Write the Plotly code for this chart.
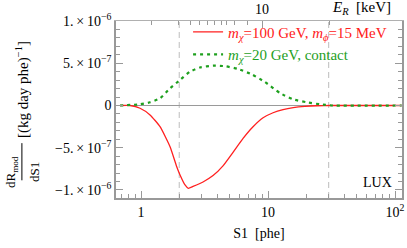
import plotly.graph_objects as go
import numpy as np

# ---- data ----
s1_red = [0.683, 0.819, 0.982, 1.177, 1.411, 1.692, 1.910, 2.028, 2.220, 2.357, 2.566, 3.077,
          3.69, 4.42, 5.30, 6.36, 7.62, 9.14, 10.95, 13.13, 15.8, 19.5, 24.3, 30.8, 113.0]
rate_red = [0.0, 0.0, -0.033e-6, -0.112e-6, -0.251e-6, -0.488e-6, -0.724e-6, -0.822e-6,
            -0.941e-6, -0.980e-6, -0.958e-6, -0.905e-6, -0.830e-6, -0.715e-6, -0.555e-6,
            -0.390e-6, -0.252e-6, -0.146e-6, -0.086e-6, -0.049e-6, -0.026e-6, -0.011e-6,
            -0.003e-6, 0.0, 0.0]

s1_green = [0.683, 0.982, 1.177, 1.411, 1.692, 2.028, 2.43, 2.91, 3.69, 4.59, 5.81, 7.47,
            9.46, 12.4, 15.7, 20.2, 25.7, 32.5, 113.0]
rate_green = [0.0, 0.014e-6, 0.038e-6, 0.085e-6, 0.204e-6, 0.302e-6, 0.40e-6, 0.45e-6,
              0.471e-6, 0.465e-6, 0.432e-6, 0.367e-6, 0.278e-6, 0.148e-6, 0.073e-6,
              0.038e-6, 0.014e-6, 0.0, 0.0]

name_red = '<span style="color:#ff2020"><i>m</i><sub><i>χ</i></sub>=100 GeV, <i>m</i><sub><i>ϕ</i></sub>=15 MeV</span>'
name_green = '<span style="color:#1ea01e"><i>m</i><sub><i>χ</i></sub>=20 GeV, contact</span>'

thresholds = [2, 30]

x_tickvals = [1, 10, 100]
x_ticktext = ["1", "10", "10<sup>2</sup>"]
x_minor = [0.7, 0.8, 0.9, 2, 3, 4, 5, 6, 7, 8, 9, 20, 30, 40, 50, 60, 70, 80, 90]

y_tickvals = [-1e-6, -5e-7, 0, 5e-7, 1e-6]
y_ticktext = ["−1.\u2009×\u200910<sup>−6</sup>", "−5.\u2009×\u200910<sup>−7</sup>", "0",
              "5.\u2009×\u200910<sup>−7</sup>", "1.\u2009×\u200910<sup>−6</sup>"]
y_minor = [v * 1e-7 for v in range(-10, 11) if v % 5 != 0]

# top axis (E_R in keV), positions expressed in S1
top_major_s1 = [8.98]
top_major_text = ["10"]
top_minor_s1 = [1.20, 1.99, 2.43, 2.86, 3.31, 3.76, 4.27, 4.75, 5.40, 6.84, 30.6]

FONT = "Liberation Serif"
AX = "#999999"

fig = go.Figure()
for t in thresholds:
    fig.add_vline(x=t, line=dict(color="#c8c8c8", width=1.2, dash="6px,4px"), layer="below")

fig.add_trace(go.Scatter(x=s1_red, y=rate_red, mode="lines", name=name_red,
                         line=dict(color="#ff2020", width=1.3, shape="spline", smoothing=0.5)))
fig.add_trace(go.Scatter(x=s1_green, y=rate_green, mode="lines", name=name_green,
                         line=dict(color="#1ea01e", width=2.2, dash="3px,4px", shape="spline", smoothing=0.5)))
# invisible trace to carry top axis
fig.add_trace(go.Scatter(x=[1], y=[0], xaxis="x2", mode="markers", marker=dict(opacity=0),
                         showlegend=False, hoverinfo="skip"))

xr = [np.log10(0.635), np.log10(113.5)]
tf = dict(family=FONT, size=14, color="black")
fig.update_layout(
    width=407, height=248,
    margin=dict(l=116, r=5, t=21, b=50, autoexpand=False),
    paper_bgcolor="white", plot_bgcolor="white",
    font=dict(family=FONT, size=14, color="black"),
    showlegend=True,
    legend=dict(x=0.252, y=1.03, xanchor="left", yanchor="top", bgcolor="rgba(0,0,0,0)",
                font=dict(family=FONT, size=15), itemwidth=30, tracegroupgap=0),
    xaxis=dict(type="log", range=xr, showgrid=False, zeroline=False, automargin=False,
               showline=True, linecolor=AX, linewidth=1.5, mirror=False,
               ticks="inside", ticklen=7, tickcolor=AX, tickwidth=1,
               tickvals=x_tickvals, ticktext=x_ticktext, tickfont=tf,
               minor=dict(tickvals=x_minor, ticks="inside", ticklen=4, tickcolor=AX, showgrid=False),
               title=dict(text="S1  [phe]", font=dict(family=FONT, size=14), standoff=10)),
    xaxis2=dict(type="log", range=xr, overlaying="x", side="top", showgrid=False, zeroline=False,
                automargin=False,
                showline=True, linecolor="#b0b0b0", linewidth=1,
                ticks="inside", ticklen=7, tickcolor=AX, tickfont=tf,
                tickvals=top_major_s1, ticktext=top_major_text,
                minor=dict(tickvals=top_minor_s1, ticks="inside", ticklen=4, tickcolor=AX, showgrid=False)),
    yaxis=dict(range=[-1.095e-6, 1.0e-6], showgrid=False, automargin=False,
               zeroline=True, zerolinecolor="#9a9a9a", zerolinewidth=1.2,
               showline=True, linecolor=AX, linewidth=1.5, mirror="ticks",
               ticks="inside", ticklen=7, tickcolor=AX, tickfont=tf,
               tickvals=y_tickvals, ticktext=y_ticktext,
               minor=dict(tickvals=y_minor, ticks="inside", ticklen=4, tickcolor=AX, showgrid=False)),
)

# y-axis title built as a rotated fraction
fig.add_annotation(xref="paper", yref="paper", x=-0.365, y=0.145, text="dR<sub>mod</sub>",
                   textangle=-90, showarrow=False, font=dict(family=FONT, size=13), xanchor="center", yanchor="middle")
fig.add_annotation(xref="paper", yref="paper", x=-0.285, y=0.15, text="dS1",
                   textangle=-90, showarrow=False, font=dict(family=FONT, size=13), xanchor="center", yanchor="middle")
fig.add_shape(type="line", xref="paper", yref="paper", x0=-0.329, x1=-0.329, y0=0.10, y1=0.31,
              line=dict(color="black", width=1))
fig.add_annotation(xref="paper", yref="paper", x=-0.329, y=0.615, text="[(kg day phe)<sup>−1</sup>]",
                   textangle=-90, showarrow=False, font=dict(family=FONT, size=15), xanchor="center", yanchor="middle")
fig.add_annotation(xref="paper", yref="paper", x=0.968, y=1.0, yshift=13, text="<i>E<sub>R</sub></i>  [keV]",
                   showarrow=False, font=dict(family=FONT, size=15), xanchor="right", yanchor="middle")
fig.add_annotation(xref="paper", yref="paper", x=0.972, y=0.087, text="LUX",
                   showarrow=False, font=dict(family=FONT, size=14), xanchor="right", yanchor="middle")

fig.write_html("out.html", config={"displayModeBar": False},
               post_script="document.body.style.margin='0';")
